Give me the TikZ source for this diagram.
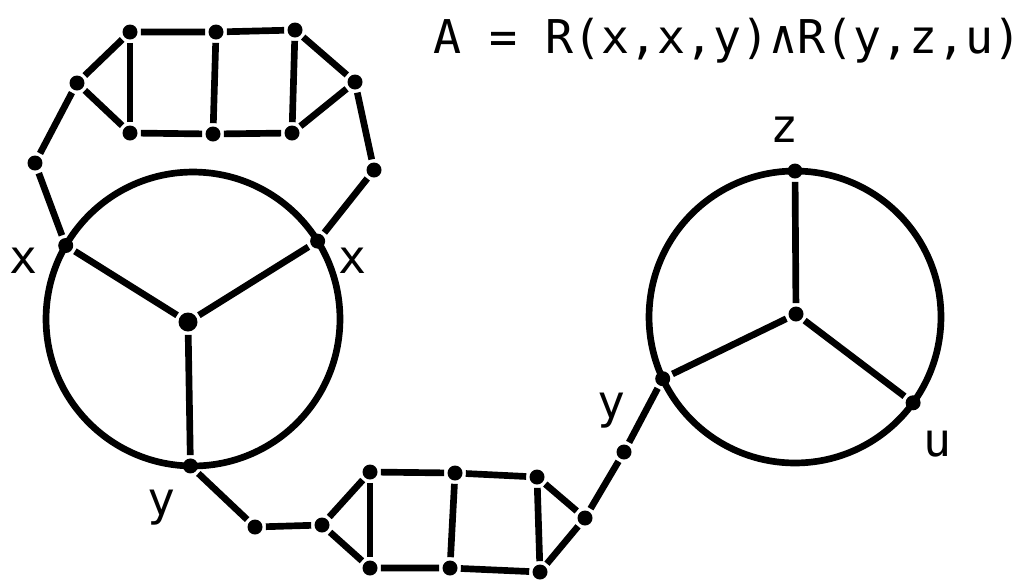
\documentclass[tikz,border=0pt]{standalone}
\usepackage{fontspec}
\setmonofont{DejaVu Sans Mono}
\usetikzlibrary{calc}

\begin{document}
\begin{tikzpicture}[x=0.02cm,y=-0.02cm,line width=3.8pt,line join=round,
    dot/.style={circle,fill,inner sep=0pt,minimum size=0.3cm},
    hub/.style={dot,minimum size=0.38cm},
    lbl/.style={font=\ttfamily\fontsize{26.5}{30}\selectfont,inner sep=0pt,anchor=base}]
  \useasboundingbox (0,0) rectangle (1026,579);

  \node[lbl,anchor=base west] (formula) at (430,53) {A = R(x,x,y)∧R(y,z,u)};

  % left wheel
  \coordinate (lc) at (193,319);
  \draw (lc) circle[radius=2.94cm];
  \node[hub] (lhub) at (188,322) {};
  \node[dot] (lx1) at ($(lc)+(150:2.94cm)$) {};
  \node[dot] (lx2) at ($(lc)+(32:2.94cm)$) {};
  \node[dot] (ly) at ($(lc)+(269:2.94cm)$) {};
  \draw (lhub) -- (lx1);
  \draw (lhub) -- (lx2);
  \draw (lhub) -- (ly);

  % right wheel
  \coordinate (rc) at (795,317);
  \draw (rc) circle[radius=2.92cm];
  \node[dot] (rhub) at (796,314) {};
  \node[dot] (rz) at ($(rc)+(90:2.92cm)$) {};
  \node[dot] (ry) at ($(rc)+(205:2.92cm)$) {};
  \node[dot] (ru) at ($(rc)+(-36:2.92cm)$) {};
  \draw (rhub) -- (rz);
  \draw (rhub) -- (ry);
  \draw (rhub) -- (ru);

  % upper ladder between the two x
  \node[dot] (a1) at (35,163) {};
  \node[dot] (a2) at (77,83) {};
  \node[dot] (a3) at (130,32) {};
  \node[dot] (a4) at (130,133) {};
  \node[dot] (a5) at (216,32) {};
  \node[dot] (a6) at (213,134) {};
  \node[dot] (a7) at (295,30) {};
  \node[dot] (a8) at (292,133) {};
  \node[dot] (a9) at (355,82) {};
  \node[dot] (a10) at (374,170) {};
  \draw (lx1) -- (a1) -- (a2) -- (a3) -- (a5) -- (a7) -- (a9) -- (a10) -- (lx2);
  \draw (a2) -- (a4) -- (a6) -- (a8) -- (a9);
  \draw (a3) -- (a4);
  \draw (a5) -- (a6);
  \draw (a7) -- (a8);

  % lower ladder between the two y
  \node[dot] (b1) at (255,527) {};
  \node[dot] (b2) at (322,525) {};
  \node[dot] (b3) at (370,472) {};
  \node[dot] (b4) at (370,568) {};
  \node[dot] (b5) at (455,473) {};
  \node[dot] (b6) at (450,568) {};
  \node[dot] (b7) at (537,477) {};
  \node[dot] (b8) at (540,572) {};
  \node[dot] (b9) at (585,518) {};
  \node[dot] (b10) at (624,452) {};
  \draw (ly) -- (b1) -- (b2) -- (b3) -- (b5) -- (b7) -- (b9) -- (b10) -- (ry);
  \draw (b2) -- (b4) -- (b6) -- (b8) -- (b9);
  \draw (b3) -- (b4);
  \draw (b5) -- (b6);
  \draw (b7) -- (b8);

  % variable names
  \node[lbl] (tx1) at (24,273) {x};
  \node[lbl] (tx2) at (353,273) {x};
  \node[lbl] (ty1) at (162,515) {y};
  \node[lbl] (ty2) at (612,418) {y};
  \node[lbl] (tz) at (784,142) {z};
  \node[lbl] (tu) at (937,456) {u};
\end{tikzpicture}
\end{document}
